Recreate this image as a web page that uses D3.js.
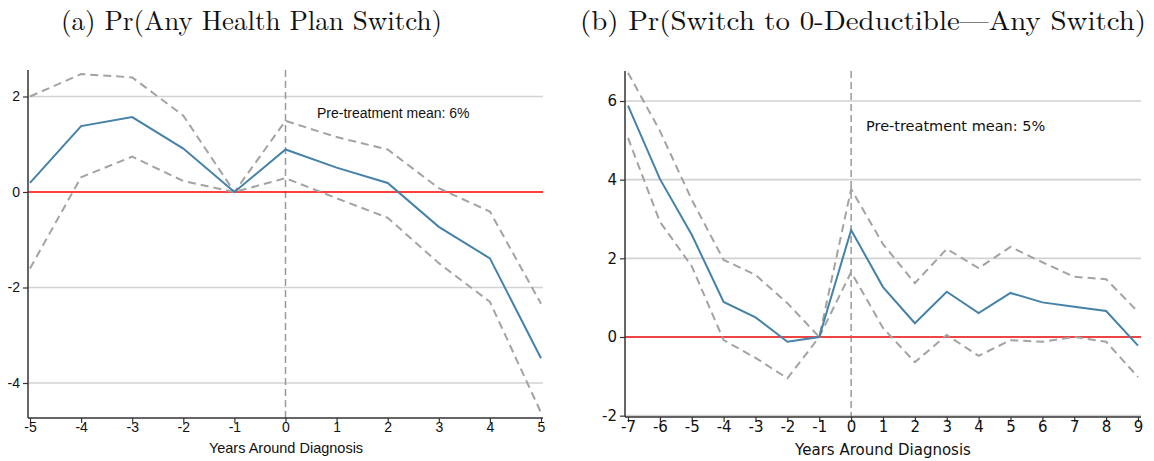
<!DOCTYPE html>
<html><head><meta charset="utf-8">
<script src="https://cdn.jsdelivr.net/npm/d3@7"></script>
<style>body{margin:0;background:#fff}svg{display:block}</style>
</head><body>
<script>
// Panel (a): Pr(Any Health Plan Switch)
const yearsA = [-5,-4,-3,-2,-1,0,1,2,3,4,5];
const estA   = [0.19,1.38,1.57,0.91,0,0.89,0.51,0.19,-0.73,-1.39,-3.48];
const upperA = [2.0,2.47,2.40,1.60,0,1.49,1.15,0.89,0.08,-0.41,-2.34];
const lowerA = [-1.6,0.31,0.74,0.23,0,0.29,-0.13,-0.54,-1.49,-2.30,-4.62];
const yTicksA = [-4,-2,0,2];

// Panel (b): Pr(Switch to 0-Deductible | Any Switch)
const yearsB = [-7,-6,-5,-4,-3,-2,-1,0,1,2,3,4,5,6,7,8,9];
const estB   = [5.88,4.02,2.60,0.89,0.50,-0.12,0,2.72,1.27,0.35,1.15,0.61,1.12,0.88,0.77,0.66,-0.22];
const upperB = [6.72,5.24,3.49,1.96,1.58,0.86,0,3.76,2.36,1.37,2.24,1.75,2.29,1.90,1.53,1.47,0.64];
const lowerB = [5.06,2.93,1.80,-0.08,-0.53,-1.05,0,1.65,0.23,-0.64,0.05,-0.48,-0.08,-0.12,0.0,-0.12,-1.02];
const yTicksB = [-2,0,2,4,6];

const titles = ["(a) Pr(Any Health Plan Switch)", "(b) Pr(Switch to 0-Deductible\u2014Any Switch)"];
const notes = ["Pre-treatment mean: 6%", "Pre-treatment mean: 5%"];
const xTitle = "Years Around Diagnosis";

const svg = d3.select("body").append("svg").attr("width",1154).attr("height",461);
const fmt = d => String(d);

function panel(cfg){
  const g = svg.append("g");
  const x = d3.scaleLinear().domain(cfg.xdom).range(cfg.xr);
  const y = d3.scaleLinear().domain(cfg.ydom).range(cfg.yr);
  // title
  svg.append("text").attr("x",cfg.titleX).attr("y",30)
    .attr("font-family","'Latin Modern Roman','Liberation Serif','DejaVu Serif',serif")
    .attr("font-size",27).attr("fill","#111")
    .attr("textLength",cfg.titleW).attr("lengthAdjust","spacingAndGlyphs")
    .text(cfg.title);
  // grid
  g.selectAll(".grid").data(cfg.yticks.filter(d=>d!==0)).join("line")
    .attr("x1",cfg.axisX).attr("x2",cfg.right)
    .attr("y1",d=>y(d)).attr("y2",d=>y(d))
    .attr("stroke","#d2d2d2").attr("stroke-width",1.6);
  // vertical dashed line at 0
  g.append("line").attr("x1",x(0)).attr("x2",x(0)).attr("y1",cfg.top).attr("y2",cfg.bottom)
    .attr("stroke","#999").attr("stroke-width",1.5).attr("stroke-dasharray","7,4");
  // zero line
  g.append("line").attr("x1",cfg.axisX).attr("x2",cfg.right).attr("y1",y(0)).attr("y2",y(0))
    .attr("stroke",cfg.red).attr("stroke-width",cfg.redW);
  const line = d3.line().x(d=>x(d[0])).y(d=>y(d[1]));
  [cfg.upper,cfg.lower].forEach(arr=>{
    g.append("path").datum(cfg.years.map((yr,i)=>[yr,arr[i]]))
      .attr("d",line).attr("fill","none").attr("stroke","#a3a3a3")
      .attr("stroke-width",2).attr("stroke-dasharray","8,5");
  });
  g.append("path").datum(cfg.years.map((yr,i)=>[yr,cfg.est[i]]))
    .attr("d",line).attr("fill","none").attr("stroke","#4682a8").attr("stroke-width",2);
  // axes
  const ax = g.append("g").attr("transform",`translate(0,${cfg.bottom})`)
    .call(d3.axisBottom(x).tickValues(cfg.years).tickFormat(fmt).tickSize(5).tickSizeOuter(0));
  ax.select(".domain").attr("d",`M${cfg.axisX},0H${cfg.right}`).attr("stroke","#333").attr("stroke-width",1.5);
  ax.selectAll(".tick line").attr("stroke","#333").attr("stroke-width",1.2);
  ax.selectAll(".tick text").attr("font-family",cfg.font).attr("font-size",cfg.fs).attr("fill","#111").attr("dy","0.6em").attr("y",6);
  const ay = g.append("g").attr("transform",`translate(${cfg.axisX},0)`)
    .call(d3.axisLeft(y).tickValues(cfg.yticks).tickFormat(fmt).tickSize(5).tickSizeOuter(0));
  ay.select(".domain").attr("d",`M0,${cfg.top}V${cfg.bottom}`).attr("stroke","#333").attr("stroke-width",1.5);
  ay.selectAll(".tick line").attr("stroke","#333").attr("stroke-width",1.2);
  ay.selectAll(".tick text").attr("font-family",cfg.font).attr("font-size",cfg.fs).attr("fill","#111").attr("x",-8);
  g.append("text").attr("x",cfg.xtX).attr("y",cfg.xtY).attr("text-anchor","middle")
    .attr("font-family",cfg.font).attr("font-size",cfg.xtFs).attr("fill","#111").text(xTitle);
  g.append("text").attr("x",cfg.noteX).attr("y",cfg.noteY)
    .attr("font-family",cfg.font).attr("font-size",cfg.noteFs).attr("fill","#111").text(cfg.note);
}

panel({xdom:[-5,5], xr:[30,541], ydom:[0,2], yr:[192,96.5], axisX:28, right:543, top:70, bottom:418,
  years:yearsA, est:estA, upper:upperA, lower:lowerA, yticks:yTicksA,
  font:"'Liberation Sans',Arial,sans-serif", fs:14, red:"#ff0000", redW:1.5,
  title:titles[0], titleX:61, titleW:381, note:notes[0], noteX:317, noteY:118, noteFs:14,
  xtX:286, xtY:453, xtFs:14.5});

panel({xdom:[-7,9], xr:[628,1138], ydom:[0,6], yr:[337,101], axisX:625, right:1141, top:71, bottom:417,
  years:yearsB, est:estB, upper:upperB, lower:lowerB, yticks:yTicksB,
  font:"'DejaVu Sans',sans-serif", fs:15, red:"#ee4444", redW:2,
  title:titles[1], titleX:580, titleW:566, note:notes[1], noteX:866, noteY:131, noteFs:14.5,
  xtX:883, xtY:455, xtFs:15});
</script>
</body></html>
